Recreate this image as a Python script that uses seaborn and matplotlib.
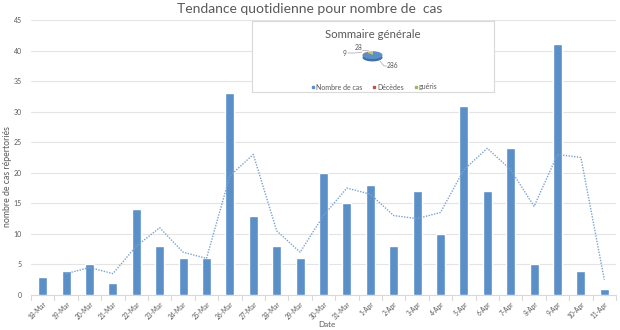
import matplotlib
matplotlib.use("Agg")
import matplotlib.pyplot as plt
import seaborn as sns
import pandas as pd
import numpy as np

# Daily reported cases
dates = ["18-Mar", "19-Mar", "20-Mar", "21-Mar", "22-Mar", "23-Mar", "24-Mar", "25-Mar",
         "26-Mar", "27-Mar", "28-Mar", "29-Mar", "30-Mar", "31-Mar", "1-Apr", "2-Apr",
         "3-Apr", "4-Apr", "5-Apr", "6-Apr", "7-Apr", "8-Apr", "9-Apr", "10-Apr", "11-Apr"]
cases = [3, 4, 5, 2, 14, 8, 6, 6, 33, 13, 8, 6, 20, 15, 18, 8, 17, 10, 31, 17, 24, 5, 41, 4, 1]

# Summary pie
summary_labels = ["Nombre de cas", "Décèdes", "guéris"]
summary_values = [286, 9, 28]

yticks = [0, 5, 10, 15, 20, 25, 30, 35, 40, 45]

BLUE = "#5B8FC8"
TXT = "#595959"
sns.set_theme(style="white")
plt.rcParams["font.family"] = ["Lato", "DejaVu Sans"]

df = pd.DataFrame({"date": dates, "cases": cases})
df["pos"] = np.arange(len(df))
# two-period moving average trendline
df["ma"] = df["cases"].rolling(2).mean()

fig = plt.figure(figsize=(6.2, 3.3), dpi=100)
W, H = 620, 330


def fx(px):
    return px / W


def fy(px):
    return 1 - px / H


ax = fig.add_axes([fx(31), fy(295), 585 / W, 275 / H])

sns.barplot(data=df, x="date", y="cases", color=BLUE, width=0.38, saturation=1,
            ax=ax, zorder=3)
sns.lineplot(data=df.dropna(), x="pos", y="ma", ax=ax, color="#7BA3CF",
             linestyle=(0, (1, 1)), linewidth=1.0, zorder=4)

ax.set_ylim(0, 45)
ax.set_xlim(-0.5, len(dates) - 0.5)
ax.set_yticks(yticks)
ax.set_yticklabels([str(v) for v in yticks], fontsize=5, color=TXT)
ax.set_xticks(range(len(dates)))
ax.set_xticklabels(dates, rotation=45, ha="right", rotation_mode="anchor",
                   fontsize=4.7, color=TXT)
ax.tick_params(axis="x", length=0, pad=4)
ax.tick_params(axis="y", length=0, pad=6.5)
ax.yaxis.grid(True, color="#E4E4E4", linewidth=0.8, zorder=0)
for s in ["top", "right", "left"]:
    ax.spines[s].set_visible(False)
ax.spines["bottom"].set_color("#D9D9D9")
ax.spines["bottom"].set_linewidth(0.8)
# category divider ticks below the axis
for b in np.arange(-0.5, len(dates), 1.0):
    ax.plot([b, b], [0, -0.8], color="#D9D9D9", linewidth=0.8, clip_on=False, zorder=2)

ax.set_xlabel("Date", fontsize=5.8, color=TXT)
ax.xaxis.set_label_coords((327 - 31) / 585, -0.108)
ax.xaxis.label.set_va("center")
ax.set_ylabel("nombre de cas répertoriés", fontsize=6.3, color=TXT)
ax.yaxis.set_label_coords((8 - 31) / 585, 0.43)
ax.yaxis.label.set_va("center")

fig.text(0.5, fy(9), "Tendance quotidienne pour nombre de  cas",
         ha="center", va="center", fontsize=10, color=TXT)

# inset summary box
box = fig.add_axes([fx(252), fy(92), 242 / W, 71 / H])
box.set_xlim(252, 494)
box.set_ylim(92, 21)
box.set_xticks([])
box.set_yticks([])
box.set_facecolor("white")
for s in box.spines.values():
    s.set_color("#D9D9D9")
    s.set_linewidth(0.8)
box.set_zorder(10)
box.text(373, 34, "Sommaire générale", ha="center", va="center", fontsize=8.2, color=TXT)

# legend inside the box
leg_colors = [BLUE, "#C0504D", "#9BBB59"]
leg_x = [316, 377, 419]
for lab, c, lx in zip(summary_labels, leg_colors, leg_x):
    box.plot(lx - 3, 87, marker="s", markersize=1.6, color=c, linestyle="none")
    box.text(lx, 87, lab, ha="left", va="center", fontsize=5, color=TXT)

# small flattened pie with a shaded rim
pie_ax = fig.add_axes([fx(362), fy(62), 21 / W, 11 / H])
pie_ax.set_zorder(11)
pie_ax.pie(summary_values, colors=["#3F6FA3", "#9A3B38", "#7A9545"], startangle=90,
           counterclock=False, radius=1.0, center=(0, -0.6), wedgeprops=dict(linewidth=0))
pie_ax.pie(summary_values, colors=[BLUE, "#C0504D", "#B5CF6B"], startangle=90,
           counterclock=False, radius=1.0, center=(0, 0), wedgeprops=dict(linewidth=0))
pie_ax.set_aspect("auto")
pie_ax.set_xlim(-1.05, 1.05)
pie_ax.set_ylim(-1.75, 1.05)
pie_ax.axis("off")

# data labels with leader lines
box.text(345, 53, str(summary_values[1]), ha="center", va="center", fontsize=4.8, color=TXT)
box.text(359, 47, str(summary_values[2]), ha="center", va="center", fontsize=4.8, color=TXT)
box.text(393, 66, str(summary_values[0]), ha="center", va="center", fontsize=4.8, color=TXT)
box.plot([348, 355, 362], [53, 53, 52], color="#A6A6A6", linewidth=0.5)
box.plot([362, 368], [50, 50], color="#A6A6A6", linewidth=0.5)
box.plot([380, 384, 387], [61, 66, 66], color="#A6A6A6", linewidth=0.5)

fig.savefig("out.png", dpi=100, facecolor="white")
